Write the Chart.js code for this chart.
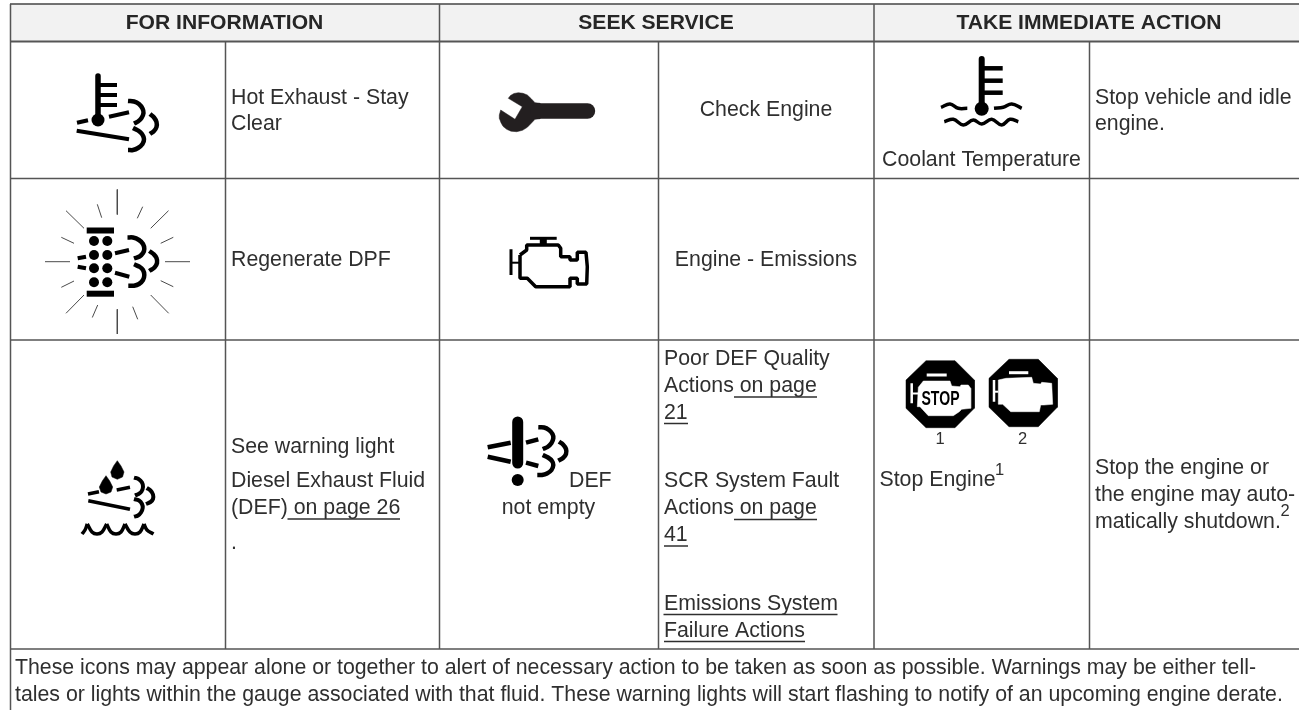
<!DOCTYPE html>
<html>
<head>
<meta charset="utf-8">
<title>Warning lights</title>
<script src="https://cdn.jsdelivr.net/npm/chart.js@4"></script>
<style>
  html, body { margin: 0; padding: 0; background: #fff; overflow: hidden; }
  canvas { display: block; }
</style>
</head>
<body>
<canvas id="grafico" width="1299" height="710"></canvas>
<script>
// TEXT
const headerLabels = ["FOR INFORMATION", "SEEK SERVICE", "TAKE IMMEDIATE ACTION"];
const headerAnchors = [[224.5, 29], [656, 29], [1089, 29]];

const bodyLabels = [
  "Hot Exhaust - Stay", "Clear", "Regenerate DPF",
  "See warning light", "Diesel Exhaust Fluid", "(DEF) on page 26", ".",
  "Check Engine", "Engine - Emissions", "DEF", "not empty",
  "Poor DEF Quality", "Actions on page", "21",
  "SCR System Fault", "Actions on page", "41",
  "Emissions System", "Failure Actions",
  "Coolant Temperature", "Stop vehicle and idle", "engine.",
  "Stop Engine", "Stop the engine or", "the engine may auto-",
  "matically shutdown.",
  "These icons may appear alone or together to alert of necessary action to be taken as soon as possible. Warnings may be either tell-",
  "tales or lights within the gauge associated with that fluid. These warning lights will start flashing to notify of an upcoming engine derate."
];
const bodyAnchors = [
  [231, 103.5, "left"], [231, 130, "left"], [231, 266, "left"],
  [231, 452.5, "left"], [231, 486.5, "left"], [231, 514, "left"], [231, 549, "left"],
  [766, 116, "center"], [766, 266, "center"], [569, 486.5, "left"], [548.5, 514, "center"],
  [664, 365, "left"], [664, 391.5, "left"], [664, 418.5, "left"],
  [664, 486.5, "left"], [664, 514, "left"], [664, 540.5, "left"],
  [664, 610, "left"], [664, 637, "left"],
  [981.5, 165.5, "center"], [1095, 103.5, "left"], [1095, 130, "left"],
  [879.5, 486, "left"], [1095, 474, "left"], [1095, 501, "left"],
  [1095, 527.5, "left"],
  [15, 674, "left"], [15, 700.5, "left"]
];
const smallLabels = ["1", "2", "1", "2"];
const smallAnchors = [[940, 443.5], [1022.5, 443.5], [999.5, 475], [1285, 516]];
const stopLabel = "STOP";
const stopAnchor = [940.5, 405];

// TABLE LINES
const outerColumn = 10.5;
const groupColumns = [439.5, 874];
const innerColumns = [225.5, 658.5, 1089.5];
const rowLines = [41.5, 178.5, 340, 649];
const topLine = 4;
const rightEnd = 1299;
const tableBottom = 710;
const rowBottom = 649;
const headerBand = [[10, 4], [1299, 4], [1299, 41], [10, 41], [10, 4]];

// UNDERLINES
const underlines = [
  [[287.5, 519], [400, 519]],
  [[734, 397], [817, 397]],
  [[664, 423.5], [688, 423.5]],
  [[734, 519.5], [817, 519.5]],
  [[664, 546], [688, 546]],
  [[663.5, 614.5], [837.5, 614.5]],
  [[664, 641.5], [805, 641.5]]
];

// HOT EXHAUST ICON
const hotStem = [[98, 76], [98, 120]];
const hotBars = [[[98, 85], [117, 85]], [[98, 95], [117, 95]], [[98, 105], [117, 105]]];
const hotBulb = [[98, 120]];
const hotDashes = [[[77, 122.7], [88, 120.3]], [[109, 116.7], [129, 112.3]], [[76.7, 130.7], [129, 139.3]]];
const hotPuffs = [
  [[128, 101], [134, 101.5], [139, 104], [142.5, 108.5], [143.5, 113], [141.5, 118], [138, 121.5], [134, 123.5]],
  [[150, 114], [154, 117.5], [156.5, 122], [156.5, 127], [154, 131], [150, 134]],
  [[133, 128], [138, 130.5], [142, 134], [144, 139], [142.5, 144], [138, 148], [133, 150], [128, 150]]
];

// REGENERATE DPF ICON
const dpfRays = [
  [[117.3, 189.5], [117.3, 214.5]], [[97.3, 204.3], [101.7, 217.7]], [[66, 210.7], [84, 228.3]],
  [[142.7, 206.7], [137.3, 218.3]], [[168.5, 210.7], [150.7, 228.3]], [[61.3, 237.3], [74, 243.3]],
  [[173.3, 237.3], [160.7, 243.3]], [[45, 261.7], [70, 261.7]], [[165, 261.7], [190, 261.7]],
  [[61.3, 287.3], [74, 281]], [[173.3, 286.7], [160.7, 280.7]], [[66, 313.3], [84, 295]],
  [[168.7, 313.3], [150.7, 295]], [[92.3, 317.5], [97.7, 305]], [[137.7, 319.3], [132.7, 306.7]],
  [[117.3, 309.3], [117.3, 334]]
];
const dpfPlates = [[[86.7, 230.5], [114, 230.5]], [[86.7, 293.7], [114, 293.7]]];
const dpfDots = [
  [94, 241], [107.3, 241], [94, 255], [107.3, 255],
  [94, 268.3], [107.3, 268.3], [94, 282.3], [107.3, 282.3]
];
const dpfDashes = [
  [[77.7, 258.3], [86, 256.7]], [[77.7, 266.7], [86, 268.3]],
  [[115, 253.3], [129, 250]], [[115, 272.7], [129.3, 276.7]]
];
const dpfPuffs = [
  [[127.5, 237.5], [133, 237.5], [139, 240], [143, 244], [144.3, 249], [143, 253], [139.5, 256.5], [134, 258.5]],
  [[149.3, 251], [153.5, 254], [156.5, 258], [157, 263], [154.5, 267.5], [149.3, 271]],
  [[134, 264.3], [139, 266.5], [143, 270], [144.3, 275], [143, 280], [139, 284], [134, 285.7], [128.3, 285.7]]
];

// DEF FLUID ICON
const fluidDrops = [
  [[117.3, 460.7], [121, 466], [124, 472], [122.5, 477], [117.3, 479.3], [112, 477], [110.7, 472], [113.6, 466], [117.3, 460.7]],
  [[106, 475.7], [109.7, 481], [112.7, 487], [111, 492], [106, 494], [101, 492], [99.3, 487], [102.3, 481], [106, 475.7]]
];
const fluidDashes = [[[88, 494], [99, 491.7]], [[116.7, 490], [130, 487.3]], [[88.3, 500.7], [130, 509.3]]];
const fluidPuffs = [
  [[134, 477.7], [138.5, 479], [142, 482.5], [143, 487], [141.5, 491.5], [138.5, 494], [135, 495.5]],
  [[146.7, 488], [150.5, 490.5], [153, 494.5], [153, 499], [150.5, 502], [146, 504]],
  [[134, 499], [139, 500.5], [142, 504], [142.7, 508], [141, 512.5], [138, 515.5], [134, 516.7]]
];
const fluidWaves = [
  [[82, 534], [85, 530], [87.3, 524]],
  [[87.3, 524], [92, 532], [97, 534], [102, 532], [106.7, 524]],
  [[106.7, 524], [111, 532], [116, 534], [121, 532], [125, 524]],
  [[125, 524], [130, 532], [135, 534], [140, 532], [144, 524]],
  [[144, 524], [147, 530], [153.5, 534]]
];

// WRENCH ICON
const wrenchHead = [
  [508.3, 98.3], [510.5, 95.5], [514, 93.5], [518.3, 92.7], [523, 93.3], [527.3, 95], [531, 98.5], [535, 102.7], [540, 103.3],
  [540, 118.7], [535, 119.3], [531, 123.5], [527.3, 127.3], [522.5, 130.3], [516.7, 131.7], [511, 131.2], [506.7, 129.3],
  [503, 126.3], [501, 122.7], [499.5, 118.7], [499.3, 115], [500.7, 110], [515, 119.3], [522.3, 106.7], [508.3, 98.3]
];
const wrenchHandle = [[538, 111], [587.5, 111]];

// ENGINE ICON
const engineBody = [
  [520, 255], [526.7, 250], [526.7, 245], [558.3, 245], [560.7, 248.3], [560.7, 256.7],
  [570, 256.7], [570, 260], [577.3, 260], [577.3, 252.3], [586, 252.3], [587.3, 266.7],
  [586.7, 284], [577.3, 284], [577.3, 278.3], [570, 278.3], [570, 286.7], [535.7, 286.7],
  [527.3, 278.3], [520, 278.3], [520, 255]
];
const engineCap = [[530, 238.3], [556.7, 238.3]];
const engineNeck = [[543.3, 238.3], [543.3, 245]];
const engineBar = [[511, 249.3], [511, 275]];
const engineLink = [[511, 262.7], [520, 262.7]];

// DEF WARNING ICON
const warnStem = [[517.7, 422], [517.7, 463]];
const warnDot = [[517.7, 480]];
const warnDashes = [
  [[487.7, 447.3], [510.7, 442.7]], [[487.7, 456.7], [510.7, 461.7]],
  [[526, 442.7], [538.3, 439.3]], [[526, 462.7], [538.3, 466]]
];
const warnPuffs = [
  [[538.3, 427.3], [544, 427.5], [549, 430], [552.5, 434], [553.3, 438.3], [551.5, 443], [547.5, 447], [542.7, 449]],
  [[559, 441.7], [563, 444.5], [566, 449], [566, 454], [563, 458], [558.3, 460.7]],
  [[542.7, 455], [548, 457.5], [552, 461], [553.3, 465], [551.5, 470], [547, 473.5], [542, 475], [537.3, 475]]
];

// COOLANT ICON
const coolStem = [[981.7, 59], [981.7, 108]];
const coolBulb = [[981.7, 108.7]];
const coolBars = [[[981.7, 68.3], [1002.7, 68.3]], [[981.7, 80.7], [1002.7, 80.7]], [[981.7, 92.7], [1002.7, 92.7]]];
const coolWaves = [
  [[941, 107.3], [950, 104], [958.3, 108.3], [967.3, 108.3]],
  [[994, 108.3], [1003.3, 107.3], [1011.7, 104], [1021.7, 108.3]],
  [[944.3, 121.7], [953.3, 119.3], [963.3, 125], [973.3, 120], [981.7, 124], [991.7, 119.3], [1001.7, 125], [1010, 119.3], [1018.3, 121.7]]
];

// STOP ICONS
const stopOctagon = [[926, 360.7], [955, 360.7], [974.3, 380], [974.3, 408.3], [955, 427.7], [926, 427.7], [906, 408.3], [906, 380], [926, 360.7]];
const stopWindow = [
  [918.3, 387.3], [923.3, 381], [950, 381], [951.7, 386], [960, 386.7], [961, 385], [968.3, 385],
  [970.7, 388.3], [970.7, 408.3], [961.7, 409.3], [959.3, 411.7], [953.3, 415.7], [928.3, 415.7],
  [920, 406.7], [917.3, 406.7], [918.3, 387.3]
];
const stopTop = [[926.7, 375], [946.7, 375]];
const stopBar = [[911.7, 383.3], [911.7, 403.3]];
const stopLink = [[911.7, 393.5], [918, 393.5]];
const engineOctagon = [[1009, 359.3], [1038.3, 359.3], [1057.3, 378.3], [1057.3, 407.3], [1038.3, 426.7], [1009, 426.7], [989, 407.3], [989, 378.3], [1009, 359.3]];
const engineWindow = [
  [998.3, 380], [1006, 378.3], [1031.7, 377.3], [1033.3, 383.3], [1040.7, 384], [1041.7, 382.3],
  [1051.7, 383.3], [1052.7, 404.3], [1044, 405], [1040.7, 405], [1039.3, 411.7], [1010.7, 411.7],
  [1002.7, 404.3], [998.3, 404.3], [998.3, 380]
];
const engineTop = [[1009, 372.7], [1028.3, 372.7]];
const octBar = [[994, 380], [994, 401.7]];
const octLink = [[994, 391.7], [998.3, 391.7]];

// COLORS
const corLinha = "#555555";
const corTexto = "#2f2f2f";
const corIcone = "#000000";
const corChave = "#231f20";
const corRaio = "#4a4a4a";

const datasets = [];

function addLine(points, width, color, extra) {
  datasets.push(Object.assign({
    data: points,
    showLine: true,
    borderColor: color,
    borderWidth: width,
    borderCapStyle: "butt",
    borderJoinStyle: "miter",
    pointRadius: 0,
    tension: 0,
    fill: false,
    clip: false,
    order: -datasets.length
  }, extra || {}));
}

function addDots(points, radius, color) {
  datasets.push({
    data: points,
    showLine: false,
    pointRadius: radius,
    pointBackgroundColor: color,
    pointBorderWidth: 0,
    clip: false,
    order: -datasets.length
  });
}

function addShape(points, color) {
  addLine(points, 0.5, color, { fill: "shape", backgroundColor: color });
}

// GRID
addShape(headerBand, "#f2f2f2");
addLine([[10, topLine], [rightEnd, topLine]], 1.5, "#444444");
rowLines.forEach((y, i) => addLine([[10, y], [rightEnd, y]], i === 0 ? 2 : 1.5, corLinha));
addLine([[outerColumn, topLine], [outerColumn, tableBottom]], 1.5, corLinha);
groupColumns.forEach(x => addLine([[x, topLine], [x, rowBottom]], 1.5, corLinha));
innerColumns.forEach(x => addLine([[x, rowLines[0]], [x, rowBottom]], 1.5, corLinha));
underlines.forEach(u => addLine(u, 1.5, "#2f2f2f"));

// ICONS
addLine(hotStem, 5.5, corIcone, { borderCapStyle: "round" });
hotBars.forEach(b => addLine(b, 4, corIcone));
addDots(hotBulb, 6.5, corIcone);
hotDashes.forEach(d => addLine(d, 4, corIcone));
hotPuffs.forEach(p => addLine(p, 4.5, corIcone, { tension: 0.4 }));

dpfRays.forEach(r => addLine(r, 1, corRaio));
dpfPlates.forEach(p => addLine(p, 6, corIcone));
addDots(dpfDots, 5, corIcone);
dpfDashes.forEach(d => addLine(d, 4, corIcone));
dpfPuffs.forEach(p => addLine(p, 4.5, corIcone, { tension: 0.4 }));

fluidDrops.forEach(d => addShape(d, corIcone));
fluidDashes.forEach(d => addLine(d, 3.5, corIcone));
fluidPuffs.forEach(p => addLine(p, 4, corIcone, { tension: 0.4 }));
fluidWaves.forEach(w => addLine(w, 3.5, corIcone, { tension: 0.4 }));

addShape(wrenchHead, corChave);
addLine(wrenchHandle, 15.4, corChave, { borderCapStyle: "round" });

addLine(engineBody, 3.5, corIcone, { borderJoinStyle: "bevel" });
addLine(engineCap, 3, corIcone);
addLine(engineNeck, 7, corIcone);
addLine(engineBar, 3, corIcone);
addLine(engineLink, 2, corIcone);

addLine(warnStem, 11, corIcone, { borderCapStyle: "round" });
addDots(warnDot, 6, corIcone);
warnDashes.forEach(d => addLine(d, 4.5, corIcone));
warnPuffs.forEach(p => addLine(p, 4.5, corIcone, { tension: 0.4 }));

addLine(coolStem, 6, corIcone, { borderCapStyle: "round" });
addDots(coolBulb, 7, corIcone);
coolBars.forEach(b => addLine(b, 4.5, corIcone));
coolWaves.forEach(w => addLine(w, 3.5, corIcone, { tension: 0.4 }));

addShape(stopOctagon, corIcone);
addShape(stopWindow, "#ffffff");
addLine(stopTop, 3, "#ffffff");
addLine(stopBar, 2.5, "#ffffff");
addLine(stopLink, 2, "#ffffff");
addShape(engineOctagon, corIcone);
addShape(engineWindow, "#ffffff");
addLine(engineTop, 3, "#ffffff");
addLine(octBar, 2.5, "#ffffff");
addLine(octLink, 2, "#ffffff");

// TEXT PLUGIN
const textos = {
  id: "textos",
  afterDatasetsDraw(chart) {
    const ctx = chart.ctx;
    const sx = chart.scales.x;
    const sy = chart.scales.y;
    ctx.save();
    ctx.textBaseline = "alphabetic";

    ctx.fillStyle = "#262626";
    ctx.font = "bold 21.1px 'Liberation Sans'";
    ctx.textAlign = "center";
    headerLabels.forEach((t, i) => {
      ctx.fillText(t, sx.getPixelForValue(headerAnchors[i][0]), sy.getPixelForValue(headerAnchors[i][1]));
    });

    ctx.fillStyle = corTexto;
    ctx.font = "21.3px 'Liberation Sans'";
    bodyLabels.forEach((t, i) => {
      ctx.textAlign = bodyAnchors[i][2];
      ctx.fillText(t, sx.getPixelForValue(bodyAnchors[i][0]), sy.getPixelForValue(bodyAnchors[i][1]));
    });

    ctx.textAlign = "center";
    ctx.font = "16.5px 'Liberation Sans'";
    smallLabels.forEach((t, i) => {
      ctx.fillText(t, sx.getPixelForValue(smallAnchors[i][0]), sy.getPixelForValue(smallAnchors[i][1]));
    });

    ctx.fillStyle = "#000000";
    ctx.font = "bold 21px 'Liberation Sans'";
    ctx.fillText(stopLabel, sx.getPixelForValue(stopAnchor[0]), sy.getPixelForValue(stopAnchor[1]), 38);
    ctx.restore();
  }
};

new Chart(document.getElementById("grafico"), {
  type: "scatter",
  data: { datasets },
  plugins: [textos],
  options: {
    responsive: false,
    animation: false,
    layout: { padding: 0, autoPadding: false },
    scales: {
      x: { type: "linear", min: 0, max: 1299, display: false },
      y: { type: "linear", min: 0, max: 710, reverse: true, display: false }
    },
    plugins: { legend: { display: false }, tooltip: { enabled: false } }
  }
});
</script>
</body>
</html>
